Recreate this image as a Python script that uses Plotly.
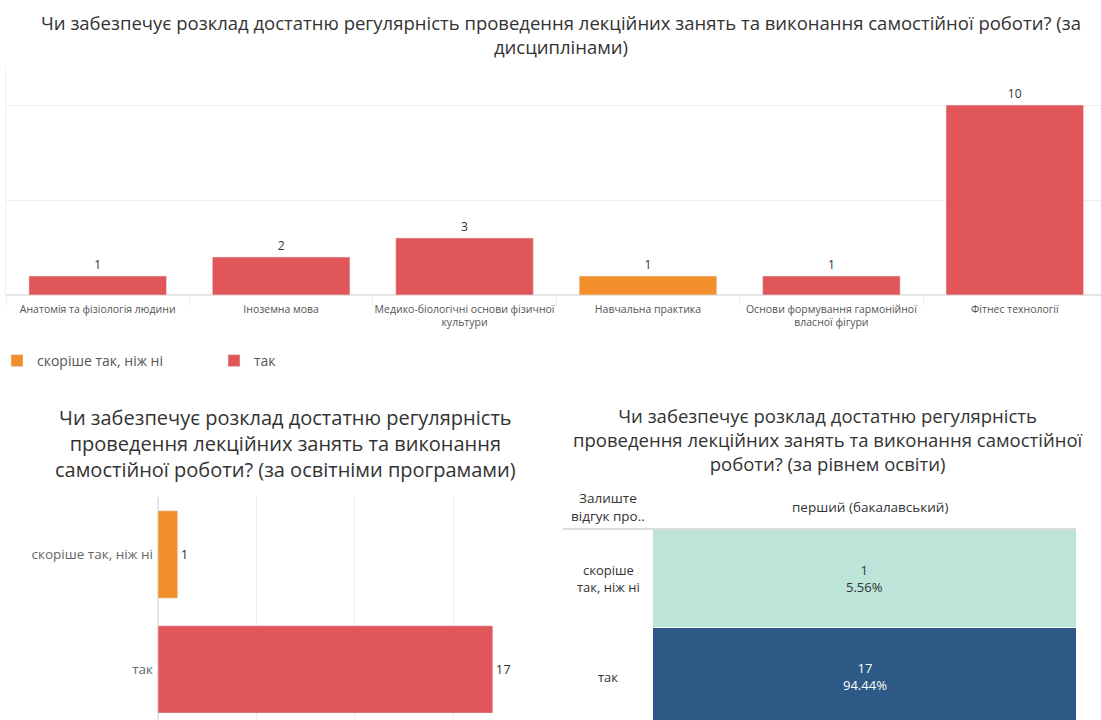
import plotly.graph_objects as go

W, H = 1101, 720

# ---- data ----
disciplines = [
    "Анатомія та фізіологія людини",
    "Іноземна мова",
    "Медико-біологічні основи фізичної<br>культури",
    "Навчальна практика",
    "Основи формування гармонійної<br>власної фігури",
    "Фітнес технології",
]
rather_yes_by_disc = [None, None, None, 1, None, None]
yes_by_disc = [1, 2, 3, None, 1, 10]

answers = ["скоріше так, ніж ні", "так"]
answers_wrapped = ["скоріше<br>так, ніж ні", "так"]
program_counts = [1, 17]

level_label = "перший (бакалавський)"
level_counts = [1, 17]

series_names = ["скоріше так, ніж ні", "так"]
ORANGE = "#F28E2B"
RED = "#E15759"
FONT = "Open Sans"

def px(x):
    return x / W

def py(y):
    return 1 - y / H

fig = go.Figure()

# ---- top chart ----
fig.add_trace(go.Bar(
    x=disciplines, y=rather_yes_by_disc, name=series_names[0],
    marker_color=ORANGE, width=0.75, xaxis="x", yaxis="y",
    text=rather_yes_by_disc, textposition="outside",
    textfont=dict(size=12, color="#333"), cliponaxis=False,
))
fig.add_trace(go.Bar(
    x=disciplines, y=yes_by_disc, name=series_names[1],
    marker_color=RED, width=0.75, xaxis="x", yaxis="y",
    text=yes_by_disc, textposition="outside",
    textfont=dict(size=12, color="#333"), cliponaxis=False,
))

# ---- bottom-left chart ----
fig.add_trace(go.Bar(
    y=answers, x=program_counts, orientation="h",
    marker_color=[ORANGE, RED], width=0.76, xaxis="x2", yaxis="y2",
    text=program_counts, textposition="outside",
    textfont=dict(size=13, color="#333"), cliponaxis=False,
    showlegend=False,
))

# ---- bottom-right table (heatmap) ----
total = sum(level_counts)
pct = [f"{c / total * 100:.2f}%" for c in level_counts]
fig.add_trace(go.Heatmap(
    x=[level_label], y=answers,
    z=[[c] for c in level_counts],
    colorscale=[[0, "#BCE4D8"], [1, "#2C5985"]],
    zmin=min(level_counts), zmax=max(level_counts),
    showscale=False, xaxis="x3", yaxis="y3", xgap=0, ygap=1,
    hoverinfo="skip",
))

annotations = []
for a, c, p in zip(answers, level_counts, pct):
    annotations.append(dict(
        x=level_label, y=a, xref="x3", yref="y3",
        text=f"{c}<br>{p}", showarrow=False, xanchor="center", yanchor="middle",
        font=dict(size=13, color="#333" if c < max(level_counts) else "white", family=FONT),
    ))
for a, lab in zip(answers, answers_wrapped):
    annotations.append(dict(
        x=px(608), y=a, xref="paper", yref="y3", text=lab, showarrow=False,
        xanchor="center", yanchor="middle",
        font=dict(size=13, color="#333", family=FONT), align="center",
    ))
annotations.append(dict(
    x=px(870), y=py(507), xref="paper", yref="paper", text=level_label,
    showarrow=False, xanchor="center", yanchor="middle",
    font=dict(size=13.5, color="#333", family=FONT),
))
annotations.append(dict(
    x=px(608), y=py(507), xref="paper", yref="paper",
    text="Залиште<br>відгук про..", showarrow=False, align="center",
    xanchor="center", yanchor="middle",
    font=dict(size=13.5, color="#333", family=FONT),
))

# titles
annotations.append(dict(
    x=px(561), y=py(34), xref="paper", yref="paper",
    text="Чи забезпечує розклад достатню регулярність проведення лекційних занять та виконання самостійної роботи? (за<br>дисциплінами)",
    showarrow=False, xanchor="center", yanchor="middle",
    font=dict(size=18.5, color="#333", family=FONT), align="center",
))
annotations.append(dict(
    x=px(285), y=py(443), xref="paper", yref="paper",
    text="Чи забезпечує розклад достатню регулярність<br>проведення лекційних занять та виконання<br>самостійної роботи? (за освітніми програмами)",
    showarrow=False, xanchor="center", yanchor="middle",
    font=dict(size=20, color="#333", family=FONT), align="center",
))
annotations.append(dict(
    x=px(828), y=py(439), xref="paper", yref="paper",
    text="Чи забезпечує розклад достатню регулярність<br>проведення лекційних занять та виконання самостійної<br>роботи? (за рівнем освіти)",
    showarrow=False, xanchor="center", yanchor="middle",
    font=dict(size=18.5, color="#333", family=FONT), align="center",
))

fig.update_layout(
    width=W, height=H,
    margin=dict(l=0, r=0, t=0, b=0, autoexpand=False),
    paper_bgcolor="white", plot_bgcolor="white",
    font=dict(family=FONT, color="#555"),
    barmode="overlay",
    showlegend=True,
    legend=dict(
        orientation="h", x=px(-3), y=py(361), yanchor="middle", xanchor="left",
        font=dict(size=14, color="#555"),
        entrywidth=172, entrywidthmode="pixels",
    ),
    xaxis=dict(
        domain=[px(6), 1], range=[-0.5, 5.47], type="category",
        tickfont=dict(size=10.5, color="#555"), ticks="outside", tickson="boundaries",
        ticklen=10, tickcolor="#eeeeee", showgrid=False, fixedrange=True,
        ticklabelstandoff=6, tickangle=0, automargin=False,
    ),
    yaxis=dict(
        domain=[py(295), py(68)], range=[0, 11.95], dtick=5,
        showticklabels=False, gridcolor="#eeeeee", zeroline=True,
        zerolinecolor="#e6e6e6", showline=True, linecolor="#f0f0f0",
        automargin=False,
    ),
    xaxis2=dict(
        domain=[px(158), px(545)], range=[0, 19.65], dtick=5,
        showticklabels=False, gridcolor="#eeeeee", zeroline=True,
        zerolinecolor="#e6e6e6", anchor="y2", automargin=False,
    ),
    yaxis2=dict(
        domain=[0, py(497)], range=[1.44, -0.5], type="category",
        tickfont=dict(size=13.5, color="#666"), anchor="x2",
        ticks="", ticklabelstandoff=4, automargin=False,
    ),
    xaxis3=dict(
        domain=[px(653), px(1076)], showticklabels=False, anchor="y3",
        showgrid=False, zeroline=False, automargin=False,
    ),
    yaxis3=dict(
        domain=[0, py(530)], range=[1.44, -0.5], type="category",
        showticklabels=False, anchor="x3", showgrid=False, zeroline=False,
        automargin=False,
    ),
    annotations=annotations,
    shapes=[dict(
        type="line", xref="paper", yref="paper",
        x0=px(563), x1=px(1076), y0=py(529), y1=py(529),
        line=dict(color="#dddddd", width=2),
    )],
)

fig.write_html(
    "out.html",
    config={"displayModeBar": False},
    post_script="document.body.style.margin='0';document.body.style.overflow='hidden';",
)
